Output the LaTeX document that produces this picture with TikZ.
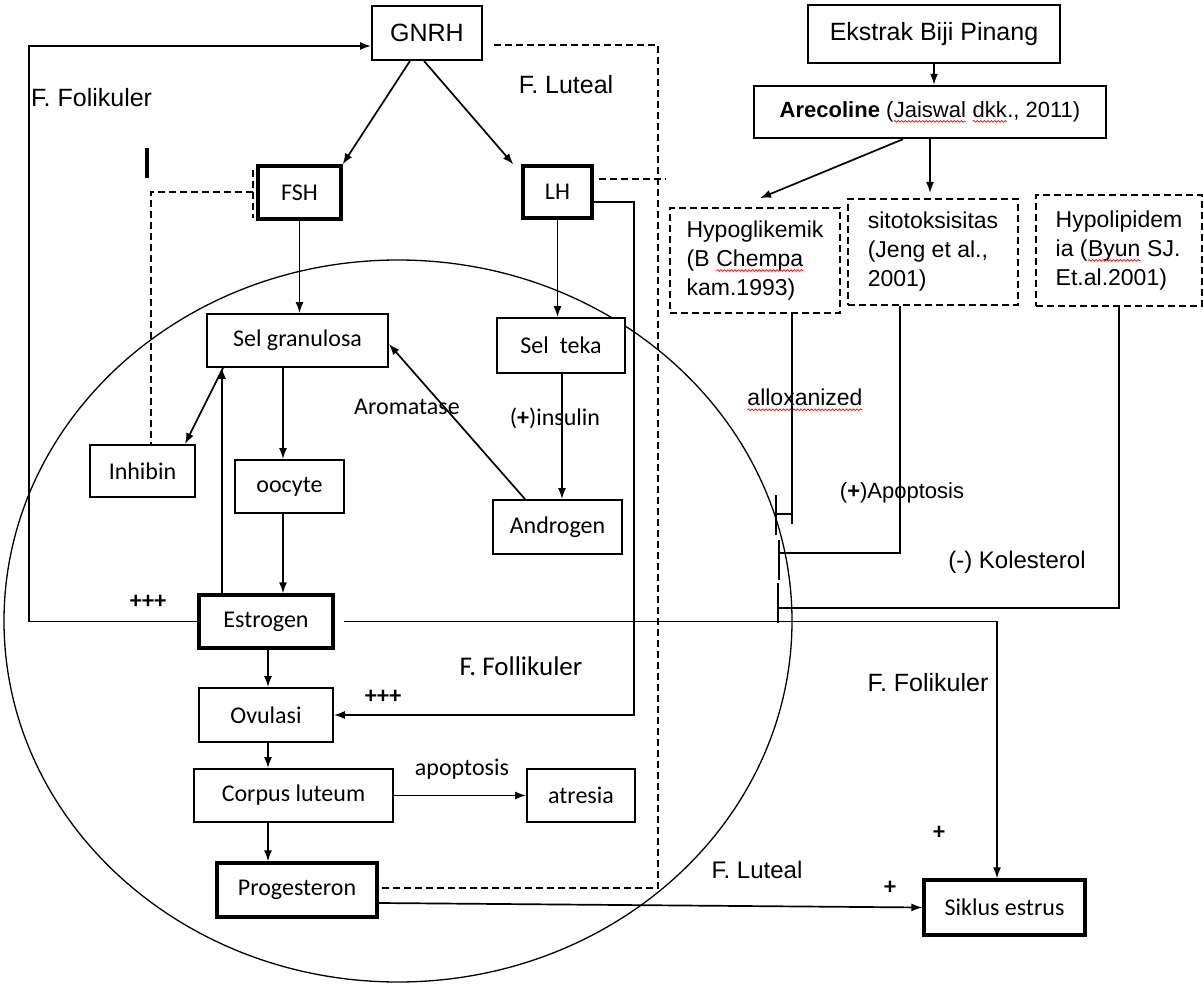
\documentclass[tikz,border=0pt]{standalone}
\usepackage{fontspec}
\newfontfamily\arialf{Liberation Sans}
\newfontfamily\calibf{Carlito}
\usetikzlibrary{arrows.meta,decorations.pathmorphing,calc}

% red spell-check squiggle under a word
\newcommand\wavyword[1]{\tikz[baseline=(ww.base)]{%
  \node[inner sep=0pt,outer sep=0pt,minimum width=0pt,minimum height=0pt,
        anchor=center,draw=none,shape=rectangle] (ww) {#1};%
  \draw[solid,red,line width=0.7pt,decorate,
        decoration={snake,amplitude=0.9pt,segment length=3.5pt}]
        ([yshift=-4pt]ww.base west) -- ([yshift=-4pt]ww.base east);}}

\tikzset{
  abox/.style={draw, fill=white, line width=1.9pt, inner sep=0pt,
               font=\arialf\fontsize{25}{30}\selectfont},
  cbox/.style={draw, fill=white, line width=1.8pt, inner sep=0pt,
               font=\calibf\fontsize{24}{29}\selectfont},
  thickbox/.style={cbox, line width=3.2pt},
  dbox/.style={draw, fill=white, line width=1.6pt, dash pattern=on 7pt off 4pt,
               inner sep=0pt, align=left, font=\arialf\fontsize{23}{29}\selectfont},
  lbl/.style={inner sep=0pt, font=\arialf\fontsize{25}{30}\selectfont},
  lblm/.style={inner sep=0pt, font=\arialf\fontsize{24}{29}\selectfont},
  lbls/.style={inner sep=0pt, font=\arialf\fontsize{22}{27}\selectfont},
  clbl/.style={inner sep=0pt, font=\calibf\fontsize{24}{29}\selectfont},
  conn/.style={line width=1.7pt},
  arr/.style={conn, -{Latex[length=11pt,width=8pt]}},
  dconn/.style={line width=1.6pt, dash pattern=on 7pt off 4pt},
  inhbar/.style={line width=1.8pt},
}

\begin{document}
\begin{tikzpicture}[x=1pt,y=-1pt]
\useasboundingbox[fill=white] (0,0) rectangle (1203,984);

% follicle outline
\draw[line width=1.3pt] (398,621) ellipse [x radius=394pt, y radius=361pt];

% ---------- hormonal axis ----------
\node[abox, minimum width=110pt, minimum height=54pt] (gnrh) at (427,33) {GNRH};
\node[thickbox, minimum width=83pt, minimum height=53pt] (fsh) at (299.5,192.5) {FSH};
\node[thickbox, minimum width=69pt, minimum height=52pt] (lh) at (557.5,192) {LH};
\node[cbox, minimum width=181pt, minimum height=53pt] (selg) at (297.5,340.5) {Sel granulosa};
\node[cbox, minimum width=128pt, minimum height=55pt] (selt) at (561,345.5) {Sel~ teka};
\node[cbox, minimum width=105pt, minimum height=52pt] (inh) at (142.5,471) {Inhibin};
\node[cbox, minimum width=109pt, minimum height=53pt] (oo) at (289.5,486.5) {oocyte};
\node[cbox, minimum width=129pt, minimum height=54pt] (andr) at (557.5,527) {Androgen};
\node[thickbox, minimum width=134pt, minimum height=53pt] (est) at (266,621.5) {Estrogen};
\node[cbox, minimum width=134pt, minimum height=54pt] (ovu) at (266,715) {Ovulasi};
\node[cbox, minimum width=199pt, minimum height=53pt] (corp) at (293.5,795.5) {Corpus luteum};
\node[cbox, minimum width=108pt, minimum height=53pt] (atr) at (581,795.5) {atresia};
\node[thickbox, minimum width=160pt, minimum height=54pt] (prog) at (297,890) {Progesteron};
\node[thickbox, minimum width=161pt, minimum height=55pt] (sik) at (1004.5,907.5) {Siklus estrus};

% ---------- areca extract ----------
\node[abox, minimum width=252pt, minimum height=58pt] (eks) at (934,34) {Ekstrak Biji Pinang};
\node[abox, line width=2.4pt, font=\arialf\fontsize{22}{27}\selectfont,
      minimum width=352pt, minimum height=52pt] (are) at (930,112)
      {\textbf{Arecoline} (\wavyword{Jaiswal} \wavyword{dkk}., 2011)};
\node[dbox, minimum width=170pt, minimum height=105pt] (hypo) at (755,260.5)
      {Hypoglikemik\\(B \wavyword{Chempa}\\kam.1993)};
\node[dbox, minimum width=170pt, minimum height=106pt] (sito) at (933,252)
      {sitotoksisitas\\(Jeng et al.,\\2001)};
\node[dbox, minimum width=166pt, minimum height=111pt] (hlip) at (1119,250.5)
      {Hypolipidem\\ia (\wavyword{Byun} SJ.\\Et.al.2001)};

% ---------- labels ----------
\node[lbl, anchor=west] (lfol) at (31,98) {F. Folikuler};
\node[lbl] (llut) at (566,85) {F. Luteal};
\node[clbl] (larom) at (407,407) {Aromatase};
\node[clbl] (lins) at (555,418) {(\textbf{+})insulin};
\node[clbl] (lp1) at (148,602) {\textbf{+++}};
\node[clbl] (lp2) at (383,697) {\textbf{+++}};
\node[clbl, font=\calibf\fontsize{27}{32}\selectfont] (lfol2) at (521,666) {F. Follikuler};
\node[clbl] (lapo) at (462,769) {apoptosis};
\node[lbls, font=\arialf\fontsize{23}{28}\selectfont] (lallox) at (805,400) {\wavyword{alloxanized}};
\node[lbls] (lapo2) at (902,493) {(\textbf{+})Apoptosis};
\node[lblm] (lkol) at (1017,562) {(-) Kolesterol};
\node[lbl] (lfol3) at (928,683) {F. Folikuler};
\node[clbl] (lpl1) at (939,833) {\textbf{+}};
\node[clbl] (lpl2) at (890,888) {\textbf{+}};
\node[lblm] (llut2) at (757,870) {F. Luteal};

% ---------- connectors ----------
% estrogen feedback to GnRH
\draw[arr] (est.west) -- (29,621.5) -- (29,46) -- (gnrh.west |- 0,46);
% luteal (dashed) loop from progesterone to GnRH
\draw[dconn] (gnrh.east |- 0,45) ++(11,0) -- (658,45) -- (658,888) -- (prog.east |- 0,888);
\draw[dconn] (lh.east |- 0,179) ++(5,0) -- (666,179);
% LH surge to ovulation
\draw[arr] (lh.east |- 0,202) -- (634,202) -- (634,715) -- (ovu.east);
% GnRH to gonadotropins
\draw[arr] ([xshift=-17pt]gnrh.south) -- (fsh.north east);
\draw[arr] ([xshift=-3pt]gnrh.south) -- ([xshift=-8pt]lh.north west);
\draw[arr] (fsh.south) -- (fsh.south |- selg.north);
\draw[arr] (lh.south) -- (lh.south |- selt.north);
% inhibin negative feedback
\draw[line width=3.2pt] (147,148) -- (147,178);
\draw[dconn] (253,170) -- (253,218);
\draw[dconn] (253,192) -- (151,192) -- (151,0 |- inh.north);
% granulosa / theca cells
\draw[arr] (283,0 |- selg.south) -- (283,0 |- oo.north);
\draw[arr] (223,0 |- selg.south) -- (185,0 |- inh.north);
\draw[arr] (283,0 |- oo.south) -- (283,0 |- est.north);
\draw[arr] (222,0 |- est.north) -- (222,0 |- selg.south);
\draw[arr] (525,0 |- andr.north) -- (selg.east |- 0,344);
\draw[arr] (562,0 |- selt.south) -- (562,0 |- andr.north);
% ovulation and luteal phase
\draw[arr] (268,0 |- est.south) -- (268,0 |- ovu.north);
\draw[arr] (268,0 |- ovu.south) -- (268,0 |- corp.north);
\draw[arr] (corp.east) -- (atr.west);
\draw[arr] (268,0 |- corp.south) -- (268,0 |- prog.north);
% to the estrous cycle
\draw[arr] (est.east) ++(9,0) -- (997,621.5) -- (997,0 |- sik.north);
\draw[arr] (prog.east |- 0,903) -- (sik.west);
% areca extract effects
\draw[arr] (eks.south) -- (eks.south |- are.north);
\draw[arr] ([xshift=-27pt]are.south) -- ([shift={(5pt,9pt)}]hypo.north);
\draw[arr] (are.south) -- (are.south |- 0,193);
\coordinate (inh1) at (776,514);
\coordinate (inh2) at (779,553);
\coordinate (inh3) at (778,608);
\draw[conn] ([xshift=37pt]hypo.south) -- ++(0,210) (792,514) -- (inh1);
\draw[conn] ([xshift=-33pt]sito.south) |- (inh2);
\draw[conn] (hlip.south) |- (inh3);
\draw[inhbar] (776,495) -- (776,535);
\draw[inhbar] (779,540) -- (779,580);
\draw[inhbar] (778,583) -- (778,623);
\end{tikzpicture}
\end{document}
